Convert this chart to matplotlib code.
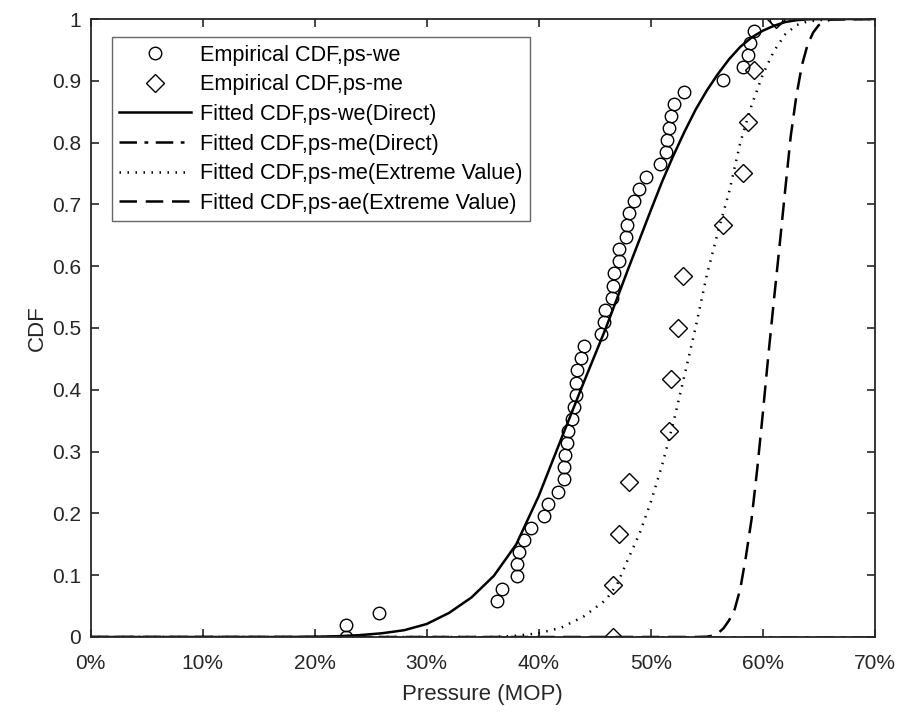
import matplotlib
matplotlib.use("Agg")
import matplotlib.pyplot as plt
import numpy as np

plt.rcParams['font.family'] = ['Liberation Sans', 'DejaVu Sans']

# Empirical CDF, ps-we (pressure in % MOP)
we_x = [22.79, 22.79, 25.74, 36.32, 36.75, 38.02, 38.04, 38.2, 38.69, 39.31,
        40.43, 40.79, 41.7, 42.23, 42.26, 42.32, 42.5, 42.64, 43.0, 43.13,
        43.33, 43.36, 43.42, 43.8, 44.04, 45.56, 45.83, 45.95, 46.52, 46.61,
        46.7, 47.17, 47.17, 47.8, 47.88, 48.04, 48.54, 48.96, 49.61, 50.8,
        51.37, 51.46, 51.66, 51.81, 52.05, 52.97, 56.46, 58.21, 58.69, 58.87,
        59.2, 61.16]
we_y = [k / 51 for k in range(52)]

# Empirical CDF, ps-me
me_x = [46.63, 46.63, 47.17, 48.04, 51.66, 51.81, 52.41, 52.91, 56.46, 58.24,
        58.71, 59.22, 61.16]
me_y = [k / 12 for k in range(13)]

# Fitted CDF, ps-we (Direct)
fit_we_x = [0, 16, 18, 20, 22, 24, 26, 28, 30, 32, 34, 36, 38, 40, 42, 44,
            46, 47, 48, 49, 50, 51, 52, 53, 54, 55, 56, 57, 58, 59, 60, 61,
            62, 63, 64, 66, 70]
fit_we_y = [0, 0, 0.0001, 0.0004, 0.0012, 0.003, 0.006, 0.011, 0.021, 0.039,
            0.064, 0.099, 0.150, 0.228, 0.320, 0.411,
            0.500, 0.548, 0.596, 0.643, 0.690, 0.736, 0.778, 0.817, 0.853,
            0.884, 0.911, 0.935, 0.955, 0.970, 0.981, 0.989,
            0.995, 0.998, 0.9995, 1.0, 1.0]

# Fitted CDF, ps-me (Direct) - hidden along the baseline
fit_me_d_x = [0, 70]
fit_me_d_y = [0, 0]

# Fitted CDF, ps-me (Extreme Value)
fit_me_ev_x = [0, 36, 38, 40, 42, 44, 46, 47, 48, 49, 50, 51, 52, 53, 54, 55,
               56, 57, 58, 59, 60, 61, 62, 63, 64, 66, 70]
fit_me_ev_y = [0, 0, 0.002, 0.006, 0.015, 0.033, 0.060, 0.085, 0.127, 0.167,
               0.218, 0.277, 0.345, 0.422, 0.500, 0.585, 0.655, 0.720, 0.800,
               0.860, 0.910, 0.948, 0.975, 0.990, 0.996, 1.0, 1.0]

# Fitted CDF, ps-ae (Extreme Value)
fit_ae_x = [0, 54, 55, 55.5, 56, 56.5, 57, 57.5, 58, 58.5, 59, 59.5, 60, 60.5,
            61, 61.5, 62, 62.5, 63, 63.5, 64, 64.5, 65, 66, 70]
fit_ae_y = [0, 0, 0.0005, 0.002, 0.006, 0.014, 0.027, 0.045, 0.078, 0.13, 0.19,
            0.27, 0.36, 0.455, 0.545, 0.632, 0.722, 0.81, 0.875, 0.925, 0.958,
            0.978, 0.99, 0.999, 1.0]

x_ticks = [0, 10, 20, 30, 40, 50, 60, 70]
x_tick_labels = ['0%', '10%', '20%', '30%', '40%', '50%', '60%', '70%']
y_ticks = [0, 0.1, 0.2, 0.3, 0.4, 0.5, 0.6, 0.7, 0.8, 0.9, 1.0]
y_tick_labels = ['0', '0.1', '0.2', '0.3', '0.4', '0.5', '0.6', '0.7', '0.8', '0.9', '1']

fig = plt.figure(figsize=(9.04, 7.17), dpi=100)
ax = fig.add_axes([0.1003, 0.1116, 0.8673, 0.8619])

ax.plot(we_x, we_y, linestyle='none', marker='o', markersize=9,
        markerfacecolor='none', markeredgecolor='black', markeredgewidth=1.0,
        label='Empirical CDF,ps-we')
ax.plot(me_x, me_y, linestyle='none', marker='D', markersize=9.5,
        markerfacecolor='none', markeredgecolor='black', markeredgewidth=1.0,
        label='Empirical CDF,ps-me')
ax.plot(fit_we_x, fit_we_y, color='black', linewidth=1.8, linestyle='-',
        label='Fitted CDF,ps-we(Direct)')
ax.plot(fit_me_d_x, fit_me_d_y, color='black', linewidth=1.8,
        linestyle=(0, (7, 3, 1.5, 3)), label='Fitted CDF,ps-me(Direct)')
ax.plot(fit_me_ev_x, fit_me_ev_y, color='black', linewidth=1.8,
        linestyle=(0, (0.6, 2.6)), label='Fitted CDF,ps-me(Extreme Value)')
ax.plot(fit_ae_x, fit_ae_y, color='black', linewidth=1.8,
        linestyle=(0, (7, 3.5)), label='Fitted CDF,ps-ae(Extreme Value)')

ax.set_xlim(0, 70)
ax.set_ylim(0, 1)
ax.set_xticks(x_ticks)
ax.set_xticklabels(x_tick_labels)
ax.set_yticks(y_ticks)
ax.set_yticklabels(y_tick_labels)
ax.tick_params(axis='both', direction='in', length=6, width=1.2, top=True,
               right=True, labelsize=15, colors='#262626')
ax.tick_params(axis='x', pad=12)
ax.tick_params(axis='y', pad=7)
for s in ax.spines.values():
    s.set_linewidth(1.3)
    s.set_color('#262626')

ax.set_xlabel('Pressure (MOP)', fontsize=16, color='#262626', labelpad=8)
ax.set_ylabel('CDF', fontsize=16, color='#262626', labelpad=3)

leg = ax.legend(loc='upper left', bbox_to_anchor=(0.027, 0.971), fontsize=15.6,
                frameon=True, fancybox=False, edgecolor='#404040',
                handlelength=3.3, borderpad=0.35, labelspacing=0.4,
                handletextpad=0.4, borderaxespad=0)
leg.get_frame().set_linewidth(1.0)

fig.savefig('out.png', dpi=100)
